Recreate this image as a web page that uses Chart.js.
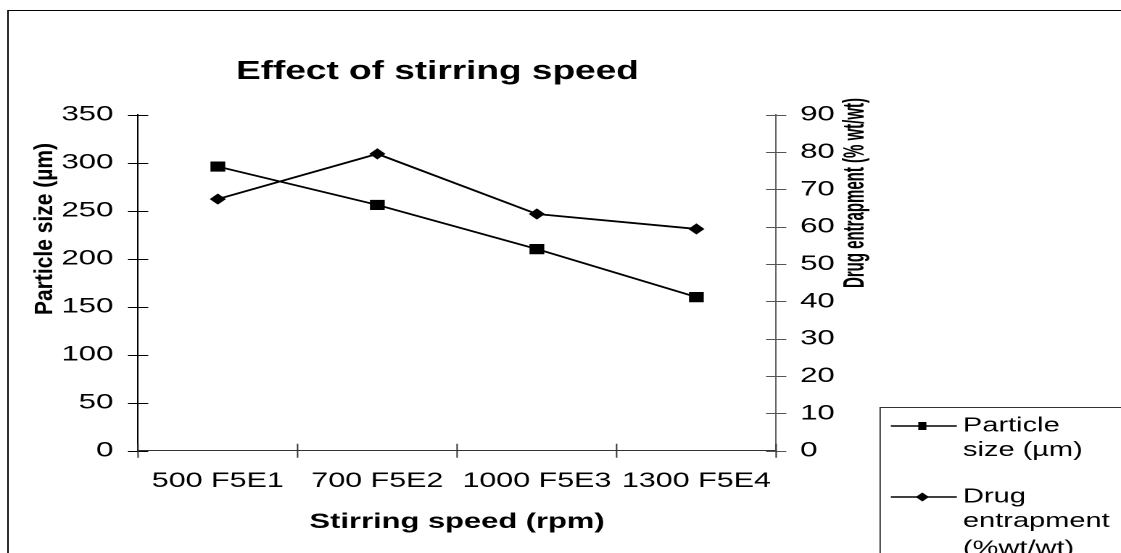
<!DOCTYPE html>
<html>
<head>
<meta charset="utf-8">
<script src="https://cdn.jsdelivr.net/npm/chart.js@4.4.1/dist/chart.umd.min.js"></script>
<style>
body { margin: 0; overflow: hidden; background: #fff; }
#wrap { width: 773px; height: 553px; transform: scaleX(1.4502); transform-origin: 0 0; }
</style>
</head>
<body>
<div id="wrap"><canvas id="chart"></canvas></div>
<script>
var categories = ['500 F5E1', '700 F5E2', '1000 F5E3', '1300 F5E4'];
var particleSize = [296, 256, 210, 160];
var drugEntrapment = [67.4, 79.5, 63.4, 59.4];
var sizeTicks = [0, 50, 100, 150, 200, 250, 300, 350];
var entrapmentTicks = [0, 10, 20, 30, 40, 50, 60, 70, 80, 90];
var legendLines = [['Particle', 'size (\u00b5m)'], ['Drug', 'entrapment', '(%wt/wt)']];

var fontFamily = '"Liberation Sans", Arial, sans-serif';

function setTicks(list) {
  return function(scale) {
    scale.ticks = list.map(function(v) { return {value: v}; });
  };
}

function drawMarker(ctx, style, x, y) {
  ctx.beginPath();
  if (style == 'rect') {
    ctx.rect(x - 2.8, y - 4, 5.6, 8);
  } else {
    ctx.moveTo(x, y - 4.5);
    ctx.lineTo(x + 4.6, y);
    ctx.lineTo(x, y + 4.5);
    ctx.lineTo(x - 4.6, y);
    ctx.closePath();
  }
  ctx.fill();
}

// vertical title, squeezed across its height
function upText(ctx, text, x, y, size, squeeze) {
  ctx.save();
  ctx.translate(x, y);
  ctx.rotate(-Math.PI / 2);
  ctx.scale(1, squeeze);
  ctx.font = 'bold ' + size + 'px ' + fontFamily;
  ctx.textAlign = 'center';
  ctx.textBaseline = 'middle';
  ctx.fillText(text, 0, 0);
  ctx.restore();
}

var extras = {
  id: 'extras',
  afterDraw: function(chart) {
    var ctx = chart.ctx;
    var area = chart.chartArea;
    var y = chart.scales.y;
    var y1 = chart.scales.y1;
    var x = chart.scales.x;
    ctx.save();

    // outer frame
    ctx.strokeStyle = '#000';
    ctx.lineWidth = 1;
    ctx.strokeRect(5.5, 10.5, chart.width + 20, chart.height + 20);

    // ticks crossing the axes
    ctx.beginPath();
    y.ticks.forEach(function(t) {
      var py = Math.round(y.getPixelForValue(t.value)) + 0.5;
      ctx.moveTo(area.left - 7, py);
      ctx.lineTo(area.left + 7, py);
    });
    ctx.strokeStyle = '#000';
    ctx.stroke();

    ctx.beginPath();
    y1.ticks.forEach(function(t) {
      var py = Math.round(y1.getPixelForValue(t.value)) + 0.5;
      ctx.moveTo(area.right - 7, py);
      ctx.lineTo(area.right + 7, py);
    });
    ctx.strokeStyle = '#555';
    ctx.stroke();

    ctx.beginPath();
    var w = (x.right - x.left) / categories.length;
    for (var i = 0; i <= categories.length; i++) {
      var px = x.left + i * w;
      ctx.moveTo(px, area.bottom - 7);
      ctx.lineTo(px, area.bottom + 7);
    }
    ctx.strokeStyle = '#333';
    ctx.stroke();

    // title
    ctx.fillStyle = '#000';
    ctx.textAlign = 'center';
    ctx.textBaseline = 'middle';
    ctx.font = 'bold 25.5px ' + fontFamily;
    ctx.fillText('Effect of stirring speed', 301.6, 72);

    upText(ctx, 'Particle size (\u00b5m)', 31, 229, 21, 0.82);
    upText(ctx, 'Drug entrapment (% wt/wt)', 590, 193, 15, 1.35);

    // legend
    ctx.strokeStyle = '#333';
    ctx.lineWidth = 1;
    ctx.strokeRect(606.9, 407.5, chart.width, chart.height);
    var rows = [426, 497];
    chart.data.datasets.forEach(function(ds, k) {
      var ly = rows[k];
      ctx.beginPath();
      ctx.moveTo(614.3, ly);
      ctx.lineTo(659.8, ly);
      ctx.strokeStyle = '#000';
      ctx.lineWidth = 1.5;
      ctx.stroke();
      drawMarker(ctx, ds.pointStyle, 636, ly);
      ctx.textAlign = 'left';
      ctx.textBaseline = 'middle';
      ctx.font = '20px ' + fontFamily;
      legendLines[k].forEach(function(line, j) {
        ctx.fillText(line, 664, ly + j * 24.5 + (j == 2 ? 3 : 0));
      });
    });
    ctx.restore();
  }
};

var chart = new Chart(document.getElementById('chart'), {
  type: 'line',
  data: {
    labels: categories,
    datasets: [
      {label: 'Particle size (\u00b5m)', data: particleSize, yAxisID: 'y', borderColor: '#000', backgroundColor: '#000', borderWidth: 1.8, pointStyle: 'rect', pointRadius: 7.2, pointBorderWidth: 0, pointBackgroundColor: '#000', tension: 0},
      {label: 'Drug entrapment (%wt/wt)', data: drugEntrapment, yAxisID: 'y1', borderColor: '#000', backgroundColor: '#000', borderWidth: 1.8, pointStyle: 'rectRot', pointRadius: 5.6, pointBorderWidth: 0, pointBackgroundColor: '#000', tension: 0}
    ]
  },
  options: {
    responsive: true,
    maintainAspectRatio: false,
    animation: false,
    devicePixelRatio: 2,
    layout: {padding: {top: 114.7, left: 0, right: 0, bottom: 0}},
    plugins: {legend: {display: false}, tooltip: {enabled: false}, title: {display: false}},
    scales: {
      x: {
        type: 'category',
        offset: true,
        grid: {display: false, drawTicks: false},
        border: {display: true, color: '#333', width: 1},
        ticks: {font: {family: fontFamily, size: 21}, color: '#000', padding: 18, maxRotation: 0, autoSkip: false},
        title: {display: true, text: 'Stirring speed (rpm)', color: '#000', font: {family: fontFamily, size: 21.3, weight: 'bold'}, padding: {top: 0, bottom: 18}},
        afterFit: function(s) { s.height = 102.3; }
      },
      y: {
        position: 'left',
        min: 0,
        max: 350,
        grid: {display: false, drawTicks: false},
        border: {display: true, color: '#000', width: 1},
        ticks: {font: {family: fontFamily, size: 21.5}, color: '#000', padding: 17},
        afterBuildTicks: setTicks(sizeTicks),
        afterFit: function(s) { s.width = 95.2; }
      },
      y1: {
        position: 'right',
        min: 0,
        max: 90,
        grid: {display: false, drawTicks: false},
        border: {display: true, color: '#666', width: 1},
        ticks: {font: {family: fontFamily, size: 21.5}, color: '#000', padding: 16.5},
        afterBuildTicks: setTicks(entrapmentTicks),
        afterFit: function(s) { s.width = 237.8; }
      }
    }
  },
  plugins: [extras]
});
</script>
</body>
</html>
